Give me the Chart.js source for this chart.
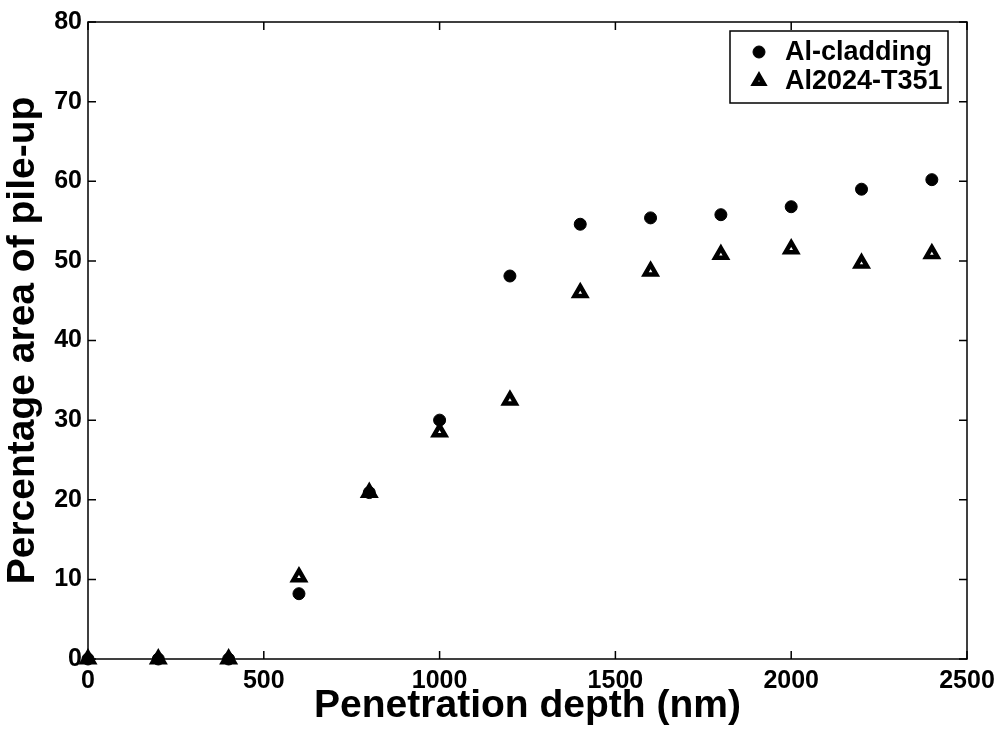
<!DOCTYPE html>
<html>
<head>
<meta charset="utf-8">
<script src="https://cdn.jsdelivr.net/npm/chart.js@4.4.1/dist/chart.umd.min.js"></script>
<style>
  html, body { margin: 0; padding: 0; background: #fff; }
  #wrap { width: 999px; height: 730px; }
</style>
</head>
<body>
<div id="wrap"><canvas id="chart"></canvas></div>
<script>
const depths = [0, 200, 400, 600, 800, 1000, 1200, 1400, 1600, 1800, 2000, 2200, 2400];
const cladding = [0, 0, 0, 8.2, 20.9, 30.0, 48.1, 54.6, 55.4, 55.8, 56.8, 59.0, 60.2];
const al2024 = [0, 0, 0, 10.3, 20.9, 28.5, 32.5, 46.0, 48.7, 50.8, 51.5, 49.7, 50.9];
const seriesNames = ["Al-cladding", "Al2024-T351"];
const xTicks = [0, 500, 1000, 1500, 2000, 2500];
const yTicks = [0, 10, 20, 30, 40, 50, 60, 70, 80];

const FONT = "'Liberation Sans', Arial, sans-serif";

const toPoints = (vals) => depths.map((d, i) => ({ x: d, y: vals[i] }));

// MATLAB style box with inward ticks on all four sides
const boxPlugin = {
  id: "box",
  afterDraw(chart) {
    const ctx = chart.ctx;
    const a = chart.chartArea;
    const xs = chart.scales.x, ys = chart.scales.y;
    const len = 8;
    ctx.save();
    ctx.strokeStyle = "#000";
    ctx.lineWidth = 1.5;
    ctx.strokeRect(a.left, a.top, a.right - a.left, a.bottom - a.top);
    ctx.beginPath();
    xTicks.forEach((t) => {
      const px = xs.getPixelForValue(t);
      ctx.moveTo(px, a.bottom); ctx.lineTo(px, a.bottom - len);
      ctx.moveTo(px, a.top); ctx.lineTo(px, a.top + len);
    });
    yTicks.forEach((t) => {
      const py = ys.getPixelForValue(t);
      ctx.moveTo(a.left, py); ctx.lineTo(a.left + len, py);
      ctx.moveTo(a.right, py); ctx.lineTo(a.right - len, py);
    });
    ctx.stroke();
    ctx.restore();
  }
};

// legend box in the upper right corner
const legendBoxPlugin = {
  id: "legendBox",
  afterDraw(chart) {
    const ctx = chart.ctx;
    const a = chart.chartArea;
    const w = 218, h = 72;
    const x0 = a.right - 19 - w, y0 = a.top + 9;
    ctx.save();
    ctx.fillStyle = "#fff";
    ctx.fillRect(x0, y0, w, h);
    ctx.strokeStyle = "#000";
    ctx.lineWidth = 1.5;
    ctx.strokeRect(x0, y0, w, h);
    chart.data.datasets.forEach((ds, i) => {
      const cy = y0 + 21 + i * 29;
      ctx.fillStyle = ds.backgroundColor;
      ctx.strokeStyle = ds.borderColor;
      ctx.lineWidth = ds.borderWidth;
      Chart.helpers.drawPoint(ctx, {
        pointStyle: ds.pointStyle,
        radius: ds.pointRadius - (i === 1 ? 1 : 0),
        borderWidth: ds.borderWidth
      }, x0 + 29, cy);
      ctx.fillStyle = "#000";
      ctx.font = "bold 27px " + FONT;
      ctx.textBaseline = "middle";
      ctx.textAlign = "left";
      ctx.fillText(ds.label, x0 + 55, cy + 1);
    });
    ctx.restore();
  }
};

new Chart(document.getElementById("chart"), {
  type: "scatter",
  data: {
    datasets: [
      {
        label: seriesNames[0],
        data: toPoints(cladding),
        pointStyle: "circle",
        pointRadius: 6,
        backgroundColor: "#000",
        borderColor: "#000",
        borderWidth: 1,
        clip: false
      },
      {
        label: seriesNames[1],
        data: toPoints(al2024),
        pointStyle: "triangle",
        pointRadius: 6.5,
        backgroundColor: "#fff",
        borderColor: "#000",
        borderWidth: 4.5,
        clip: false
      }
    ]
  },
  options: {
    responsive: true,
    maintainAspectRatio: false,
    animation: false,
    layout: { padding: { top: 22, right: 32, left: 0, bottom: 0 } },
    plugins: {
      legend: { display: false },
      tooltip: { enabled: false }
    },
    scales: {
      x: {
        type: "linear",
        min: 0,
        max: 2500,
        afterBuildTicks: (s) => { s.ticks = xTicks.map((v) => ({ value: v })); },
        afterFit: (s) => {
          s.height = 71;
          s.paddingLeft = 0;
          s.paddingRight = 0;
        },
        grid: { display: false, drawTicks: false },
        border: { display: false },
        ticks: {
          color: "#000",
          padding: 7,
          callback: (v) => String(v),
          font: { family: FONT, size: 25, weight: "bold" }
        },
        title: {
          display: true,
          text: "Penetration depth (nm)",
          color: "#000",
          padding: { top: 0, bottom: 0 },
          font: { family: FONT, size: 39, weight: "bold" }
        }
      },
      y: {
        type: "linear",
        min: 0,
        max: 80,
        afterBuildTicks: (s) => { s.ticks = yTicks.map((v) => ({ value: v })); },
        afterFit: (s) => {
          s.width = 88;
          s.paddingTop = 0;
          s.paddingBottom = 0;
        },
        grid: { display: false, drawTicks: false },
        border: { display: false },
        ticks: {
          color: "#000",
          padding: 6,
          callback: (v) => String(v),
          font: { family: FONT, size: 25, weight: "bold" }
        },
        title: {
          display: true,
          text: "Percentage area of pile-up",
          color: "#000",
          padding: { top: 0, bottom: 0 },
          font: { family: FONT, size: 39, weight: "bold" }
        }
      }
    }
  },
  plugins: [boxPlugin, legendBoxPlugin]
});
</script>
</body>
</html>
